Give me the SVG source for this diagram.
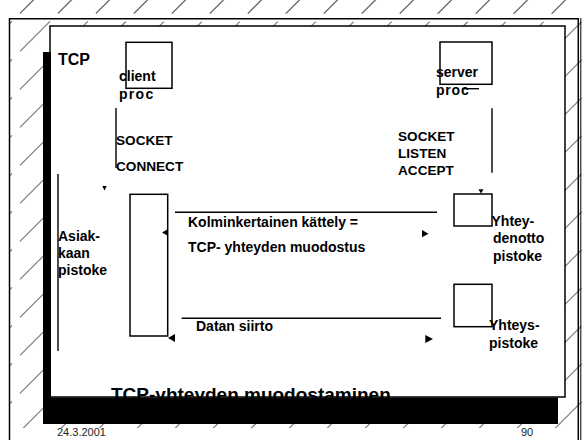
<svg xmlns="http://www.w3.org/2000/svg" width="584" height="440" viewBox="0 0 584 440">
<defs>
<clipPath id="hclip"><rect x="9" y="0" width="575" height="428"/></clipPath>
<style>
text{font-family:"Liberation Sans",Arial,Helvetica,sans-serif;fill:#000}
.b{font-weight:bold;font-size:14px}
.box{fill:none;stroke:#000;stroke-width:1.5}
.ln{stroke:#000;stroke-width:1.4;fill:none}
.ah{fill:#000;stroke:none}
.ft{font-size:11px;fill:#222}
.h path{stroke:#777;stroke-width:1.1;fill:none;stroke-dasharray:42.4 11.3}
.ht line{stroke:#777;stroke-width:1.1}
</style>
</defs>
<rect x="0" y="0" width="584" height="440" fill="#fff"/>
<g class="h" clip-path="url(#hclip)">
<path d="M-18,13.4 L13.4,-18"/>
<path d="M-18,51.4 L51.4,-18"/>
<path d="M-18,89.4 L89.4,-18"/>
<path d="M-18,127.4 L127.4,-18"/>
<path d="M-18,165.4 L165.4,-18"/>
<path d="M-18,203.4 L203.4,-18"/>
<path d="M-18,241.4 L241.4,-18"/>
<path d="M-18,279.4 L279.4,-18"/>
<path d="M-18,317.4 L317.4,-18"/>
<path d="M-18,355.4 L355.4,-18"/>
<path d="M-18,393.4 L393.4,-18"/>
<path d="M-18,431.4 L431.4,-18"/>
<path d="M-18,469.4 L469.4,-18"/>
<path d="M-18,507.4 L507.4,-18"/>
<path d="M-18,545.4 L545.4,-18"/>
<path d="M-18,583.4 L583.4,-18"/>
<path d="M-18,621.4 L621.4,-18"/>
<path d="M-18,659.4 L659.4,-18"/>
<path d="M-18,697.4 L697.4,-18"/>
<path d="M-18,735.4 L735.4,-18"/>
<path d="M-18,773.4 L773.4,-18"/>
<path d="M-18,811.4 L811.4,-18"/>
<path d="M-18,849.4 L849.4,-18"/>
<path d="M-18,887.4 L887.4,-18"/>
<path d="M-18,925.4 L925.4,-18"/>
<path d="M-18,963.4 L963.4,-18"/>
<path d="M-18,1001.4 L1001.4,-18"/>
<path d="M-18,1039.4 L1039.4,-18"/>
</g>
<g class="ht">
<line x1="20" y1="13.4" x2="33.4" y2="0"/>
<line x1="58" y1="13.4" x2="71.4" y2="0"/>
<line x1="96" y1="13.4" x2="109.4" y2="0"/>
<line x1="134" y1="13.4" x2="147.4" y2="0"/>
<line x1="172" y1="13.4" x2="185.4" y2="0"/>
<line x1="210" y1="13.4" x2="223.4" y2="0"/>
<line x1="248" y1="13.4" x2="261.4" y2="0"/>
<line x1="286" y1="13.4" x2="299.4" y2="0"/>
<line x1="324" y1="13.4" x2="337.4" y2="0"/>
<line x1="362" y1="13.4" x2="375.4" y2="0"/>
<line x1="400" y1="13.4" x2="413.4" y2="0"/>
<line x1="438" y1="13.4" x2="451.4" y2="0"/>
<line x1="476" y1="13.4" x2="489.4" y2="0"/>
<line x1="514" y1="13.4" x2="527.4" y2="0"/>
<line x1="552" y1="13.4" x2="565.4" y2="0"/>
</g>
<!-- outer frame -->
<path d="M9.5,440 V18.8 H578.3 V440" fill="none" stroke="#000" stroke-width="1.5"/>
<line x1="580.8" y1="18" x2="580.8" y2="440" stroke="#000" stroke-width="1"/>
<!-- slide -->
<rect x="50" y="26" width="515" height="371" fill="#fff" stroke="#000" stroke-width="1.5"/>
<rect x="43" y="52" width="8" height="372" fill="#000"/>
<text x="111" y="400.5" style="font-weight:bold;font-size:19px">TCP-yhteyden muodostaminen</text>
<rect x="43" y="397.5" width="515" height="26.5" fill="#000"/>
<text class="ft" x="57" y="436">24.3.2001</text>
<text class="ft" x="521" y="436">90</text>
<text class="b" x="58" y="64.5" style="font-size:16px">TCP</text>

<g id="client-proc">
<rect class="box" x="126" y="42.3" width="46" height="46"/>
<text class="b" x="119" y="81">client</text>
<text class="b" x="119" y="99" letter-spacing="1.3">proc</text>
</g>
<g id="client-calls">
<text class="b" x="116" y="145" style="font-size:13.6px">SOCKET</text>
<text class="b" x="116" y="170.5" style="font-size:13.6px">CONNECT</text>
</g>
<g id="client-socket-label">
<text class="b" x="58" y="240.5">Asiak-</text>
<text class="b" x="58" y="257.5">kaan</text>
<text class="b" x="58" y="274.5">pistoke</text>
</g>
<g id="client-socket">
<rect class="box" x="130" y="194.3" width="37.7" height="141.7"/>
</g>
<g id="server-proc">
<rect class="box" x="440" y="42" width="52" height="42.3"/>
<text class="b" x="436" y="76.5">server</text>
<text class="b" x="436" y="95" letter-spacing="0.8">proc</text>
<line class="ln" x1="462" y1="88.7" x2="479" y2="88.7"/>
</g>
<g id="server-calls">
<text class="b" x="398" y="141" style="font-size:13.6px">SOCKET</text>
<text class="b" x="398" y="157.5" style="font-size:13.6px">LISTEN</text>
<text class="b" x="398" y="175" style="font-size:13.6px">ACCEPT</text>
</g>
<g id="listen-socket">
<rect class="box" x="454" y="194" width="38" height="32"/>
<text class="b" x="491.5" y="225.5">Yhtey-</text>
<text class="b" x="493" y="243">denotto</text>
<text class="b" x="493" y="260.5">pistoke</text>
</g>
<g id="conn-socket">
<rect class="box" x="454" y="284.3" width="38" height="42.4"/>
<text class="b" x="489" y="330">Yhteys-</text>
<text class="b" x="489" y="348">pistoke</text>
</g>

<g id="connectors">
<line class="ln" x1="116" y1="108" x2="116" y2="168"/>
<polygon class="ah" points="102.3,186 106.7,186 104.5,190.5"/>
<line class="ln" x1="58" y1="174" x2="58" y2="351"/>
<line class="ln" x1="492" y1="108.3" x2="492" y2="172.7"/>
<polygon class="ah" points="478.5,189.3 483.5,189.3 481,193.5"/>
<line class="ln" x1="175" y1="212.3" x2="437" y2="212.3"/>
<polygon class="ah" points="162,232.5 168,229 168,236"/>
<polygon class="ah" points="428.5,233.7 422,230 422,237.3"/>
<text class="b" x="188" y="226.5">Kolminkertainen kättely =</text>
<text class="b" x="188" y="252">TCP- yhteyden muodostus</text>
<line class="ln" x1="181.7" y1="318.3" x2="441" y2="318.3"/>
<polygon class="ah" points="168,338 175,334 175,342"/>
<polygon class="ah" points="433,339 425.3,335 425.3,343"/>
<text class="b" x="196" y="330.5">Datan siirto</text>
</g>
</svg>
